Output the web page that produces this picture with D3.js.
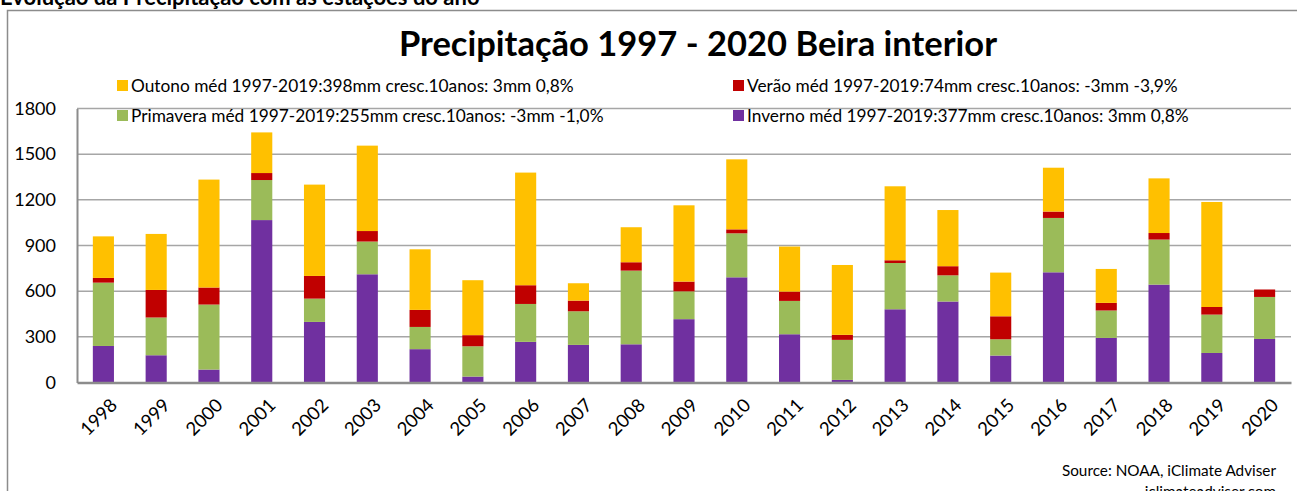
<!DOCTYPE html>
<html>
<head>
<meta charset="utf-8">
<script src="https://cdn.jsdelivr.net/npm/d3@7"></script>
<style>
  body { margin: 0; background: #fff; }
  svg { display: block; font-family: Lato, "Open Sans", sans-serif; }
</style>
</head>
<body>
<svg id="chart" width="1297" height="491"></svg>
<script>
const years = ["1998","1999","2000","2001","2002","2003","2004","2005","2006","2007","2008","2009","2010","2011","2012","2013","2014","2015","2016","2017","2018","2019","2020"];
const inverno   = [240,179,85,1067,398,711,219,39,267,247,251,416,691,317,17,481,532,177,724,293,643,194,286];
const primavera = [416,248,427,263,153,215,146,199,249,221,484,183,289,219,263,304,172,107,357,180,296,252,276];
const verao     = [31,181,112,46,149,69,112,73,123,70,55,64,26,61,33,18,60,151,42,50,43,50,49];
const outono    = [273,368,709,267,600,561,398,361,740,114,230,501,460,296,459,486,369,287,288,223,359,690,0];
const yTicks = [0,300,600,900,1200,1500,1800];

const seriesKeys = ["Inverno","Primavera","Verão","Outono"];
const colors = { "Inverno": "#7030A0", "Primavera": "#9BBB59", "Verão": "#C00000", "Outono": "#FFC000" };
const legendLabels = [
  { key: "Outono", text: "Outono méd 1997-2019:398mm cresc.10anos: 3mm 0,8%" },
  { key: "Verão", text: "Verão méd 1997-2019:74mm cresc.10anos: -3mm -3,9%" },
  { key: "Primavera", text: "Primavera méd 1997-2019:255mm cresc.10anos: -3mm -1,0%" },
  { key: "Inverno", text: "Inverno méd 1997-2019:377mm cresc.10anos: 3mm 0,8%" }
];

const data = years.map((y, i) => ({
  year: y,
  "Inverno": inverno[i],
  "Primavera": primavera[i],
  "Verão": verao[i],
  "Outono": outono[i]
}));

const svg = d3.select("#chart");
const plot = { left: 77, right: 1291, top: 108.5, bottom: 382.5 };

// outer frame
svg.append("rect")
  .attr("x", 7.5).attr("y", 10.5)
  .attr("width", 1300).attr("height", 500)
  .attr("fill", "none")
  .attr("stroke", "#8c8c8c")
  .attr("stroke-width", 1.5);

// header (cut off at top, as in the original)
svg.append("text")
  .attr("x", 0).attr("y", 5)
  .attr("font-weight", "bold")
  .attr("font-size", "22px")
  .attr("fill", "#000")
  .text("Evolução da Precipitação com as estações do ano");

const x = d3.scaleBand()
  .domain(years)
  .range([plot.left, plot.right])
  .paddingInner(0.6)
  .paddingOuter(0.3);

const y = d3.scaleLinear()
  .domain([0, 1800])
  .range([plot.bottom, plot.top]);

// gridlines
svg.append("g")
  .selectAll("line")
  .data(yTicks.filter(d => d > 0))
  .enter()
  .append("line")
  .attr("x1", plot.left).attr("x2", plot.right)
  .attr("y1", d => y(d)).attr("y2", d => y(d))
  .attr("stroke", "#a6a6a6")
  .attr("stroke-width", 1.5);

// y axis
const yAxis = svg.append("g")
  .attr("transform", `translate(${plot.left},0)`)
  .call(d3.axisLeft(y).tickValues(yTicks).tickFormat(d3.format("d")).tickSize(0).tickPadding(21));
yAxis.select(".domain").attr("stroke", "#8c8c8c").attr("stroke-width", 2);
yAxis.selectAll("text")
  .attr("font-family", "Lato, sans-serif")
  .attr("font-size", "18px")
  .attr("fill", "#000");

// stacked bars
const stacked = d3.stack().keys(seriesKeys)(data);
svg.append("g")
  .selectAll("g")
  .data(stacked)
  .enter()
  .append("g")
  .attr("fill", d => colors[d.key])
  .selectAll("rect")
  .data(d => d)
  .enter()
  .append("rect")
  .attr("x", d => x(d.data.year))
  .attr("y", d => y(d[1]))
  .attr("width", x.bandwidth())
  .attr("height", d => y(d[0]) - y(d[1]));

// x axis
const xAxis = svg.append("g")
  .attr("transform", `translate(0,${plot.bottom})`)
  .call(d3.axisBottom(x).tickSize(0).tickPadding(0));
xAxis.select(".domain").attr("stroke", "#8c8c8c").attr("stroke-width", 2.5);
xAxis.selectAll("text")
  .attr("font-family", "Lato, sans-serif")
  .attr("font-size", "18.5px")
  .attr("fill", "#000")
  .attr("text-anchor", "end")
  .attr("dy", "0")
  .attr("transform", "translate(15,24) rotate(-45)");

// title
svg.append("text")
  .attr("x", 698).attr("y", 56)
  .attr("text-anchor", "middle")
  .attr("font-weight", "bold")
  .attr("font-size", "34.5px")
  .attr("fill", "#000")
  .text("Precipitação 1997 - 2020 Beira interior");

// legend
const legend = svg.append("g");
const legItems = legend.selectAll("g")
  .data(legendLabels)
  .enter()
  .append("g")
  .attr("transform", (d, i) => `translate(${i % 2 === 0 ? 117 : 733},${i < 2 ? 86 : 116})`);
legItems.append("rect")
  .attr("x", 0).attr("y", -6)
  .attr("width", 11).attr("height", 11)
  .attr("fill", d => colors[d.key]);
legItems.append("text")
  .attr("x", 14).attr("y", 6)
  .attr("font-size", "17.3px")
  .attr("fill", "#000")
  .text(d => d.text);

// source
svg.append("text")
  .attr("x", 1276).attr("y", 476)
  .attr("text-anchor", "end")
  .attr("font-size", "15.3px")
  .attr("fill", "#000")
  .text("Source: NOAA, iClimate Adviser");
svg.append("text")
  .attr("x", 1276).attr("y", 497)
  .attr("text-anchor", "end")
  .attr("font-size", "15.3px")
  .attr("fill", "#000")
  .text("iclimateadviser.com");
</script>
</body>
</html>
